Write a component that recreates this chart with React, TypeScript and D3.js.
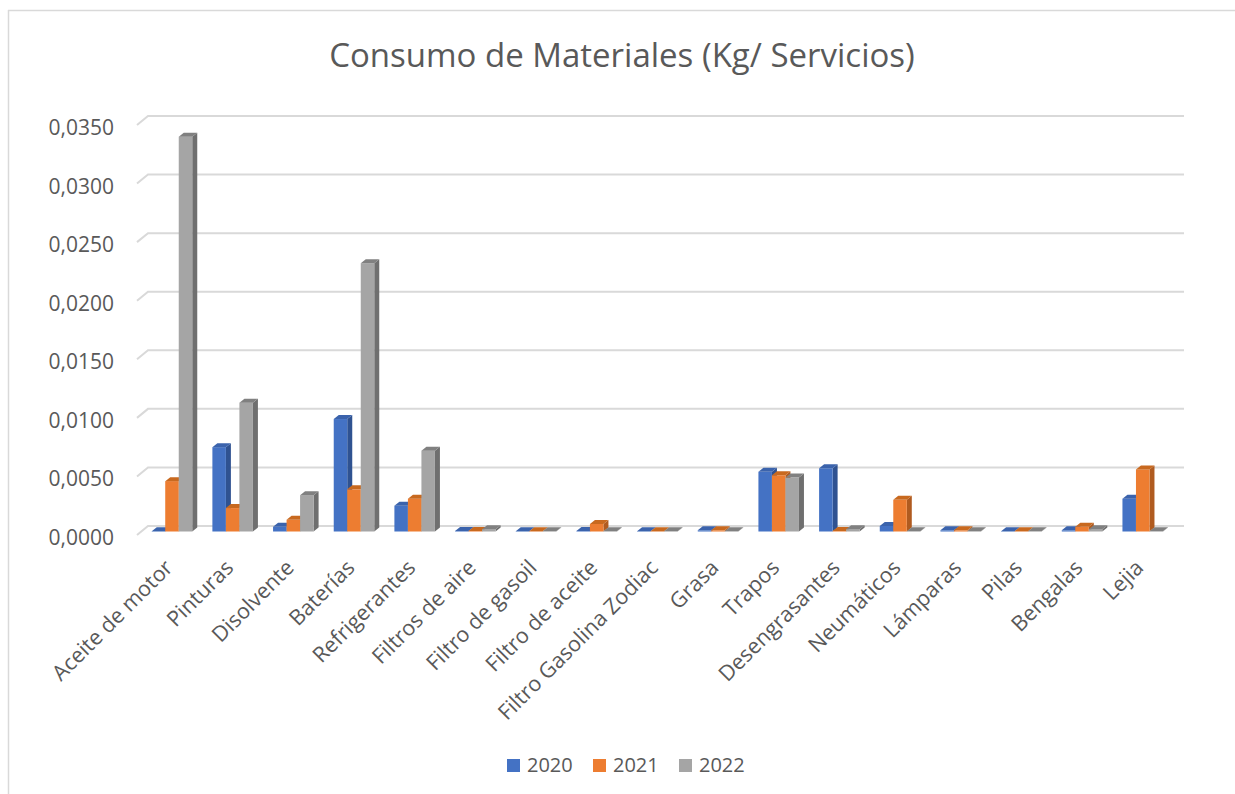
import React from "react";
import * as d3 from "d3";

const categories = [
  "Aceite de motor", "Pinturas", "Disolvente", "Baterías", "Refrigerantes",
  "Filtros de aire", "Filtro de gasoil", "Filtro de aceite", "Filtro Gasolina Zodiac",
  "Grasa", "Trapos", "Desengrasantes", "Neumáticos", "Lámparas", "Pilas", "Bengalas", "Lejia",
];
const seriesNames = ["2020", "2021", "2022"];
const v2020 = [0.00003, 0.0072, 0.0004, 0.0096, 0.0022, 0.00005, 0.00003, 0.00005, 0.00003, 0.0001, 0.0051, 0.0054, 0.00047, 0.0001, 0.00003, 0.0001, 0.0028];
const v2021 = [0.0043, 0.0020, 0.0010, 0.0036, 0.0028, 0.00005, 0.00003, 0.00064, 0.00003, 0.0001, 0.0048, 0.00005, 0.0027, 0.0001, 0.00003, 0.0004, 0.0053];
const v2022 = [0.0337, 0.0110, 0.0031, 0.0229, 0.0069, 0.0002, 0.00003, 0.00003, 0.00003, 0.00003, 0.0046, 0.0002, 0.00003, 0.00003, 0.00003, 0.0002, 0.00003];
const tickValues = [0, 0.005, 0.01, 0.015, 0.02, 0.025, 0.03, 0.035];
const tickLabels = ["0,0000", "0,0050", "0,0100", "0,0150", "0,0200", "0,0250", "0,0300", "0,0350"];

const front = ["#4472C4", "#ED7D31", "#A5A5A5"];
const side = ["#2F5291", "#B05B20", "#6F6F6F"];
const top = ["#3B63AC", "#C8691F", "#808080"];

const FONT = "'Open Sans', sans-serif";
const TXT = "#595959";
const GRID = "#d9d9d9";

export default function App() {
  const W = 1235, H = 794;
  const values = [v2020, v2021, v2022];
  const y = d3.scaleLinear().domain([0, 0.035]).range([526, 116]);
  const x0 = d3.scaleBand<string>().domain(categories).range([142.5, 1172.2]).paddingInner(0.332).paddingOuter(0.152);
  const x1 = d3.scaleBand<string>().domain(seriesNames).range([0, x0.bandwidth()]);
  const frontOff = 5.5;
  const dx = 5, dy = -4;
  const wallLeft = 148, wallRight = 1184, floorDx = 11, floorDy = 9;

  const bars: React.ReactNode[] = [];
  categories.forEach((c, ci) => {
    seriesNames.forEach((s, si) => {
      const v = values[si][ci];
      const xl = (x0(c) as number) + (x1(s) as number);
      const w = x1.bandwidth();
      const yb = y(0) + frontOff;
      const yt = y(v) + frontOff;
      const h = yb - yt;
      bars.push(
        <g key={c + s}>
          <polygon
            points={`${xl + w},${yt} ${xl + w + dx},${yt + dy} ${xl + w + dx},${yb + dy} ${xl + w},${yb}`}
            fill={side[si]}
          />
          <rect x={xl} y={yt} width={w} height={Math.max(h, 0)} fill={front[si]} />
          <polygon
            points={`${xl},${yt} ${xl + dx},${yt + dy} ${xl + w + dx},${yt + dy} ${xl + w},${yt}`}
            fill={top[si]}
          />
        </g>
      );
    });
  });

  const legendX = [507, 593, 679];

  return (
    <svg width={W} height={H} style={{ position: "absolute", left: 0, top: 0, background: "#fff" }} fontFamily={FONT}>
      <rect x={0} y={0} width={W} height={H} fill="#fff" />
      <line x1={8.5} y1={10} x2={8.5} y2={H} stroke={GRID} strokeWidth={1.5} />
      <line x1={8} y1={10.5} x2={W} y2={10.5} stroke={GRID} strokeWidth={1.5} />
      <text x={622} y={67} textAnchor="middle" fontSize={33} fill={TXT}>
        Consumo de Materiales (Kg/ Servicios)
      </text>
      {tickValues.map((t, i) => (
        <g key={t}>
          <polyline
            points={`${wallLeft - floorDx},${y(t) + floorDy} ${wallLeft},${y(t)} ${wallRight},${y(t)}`}
            fill="none"
            stroke={GRID}
            strokeWidth={2}
          />
          <text x={114} y={y(t) + 11} textAnchor="end" dominantBaseline="central" fontSize={21} fill={TXT}>
            {tickLabels[i]}
          </text>
        </g>
      ))}
      {bars}
      {categories.map((c) => {
        const cx = (x0(c) as number) + x0.bandwidth() / 2;
        return (
          <text key={c} transform={`translate(${cx + 2},${569}) rotate(-45)`} textAnchor="end" fontSize={21.5} fill={TXT}>
            {c}
          </text>
        );
      })}
      {seriesNames.map((s, i) => (
        <g key={s}>
          <rect x={legendX[i]} y={759} width={13} height={13} fill={front[i]} />
          <text x={legendX[i] + 20} y={772} fontSize={20} fill={TXT}>
            {s}
          </text>
        </g>
      ))}
    </svg>
  );
}
